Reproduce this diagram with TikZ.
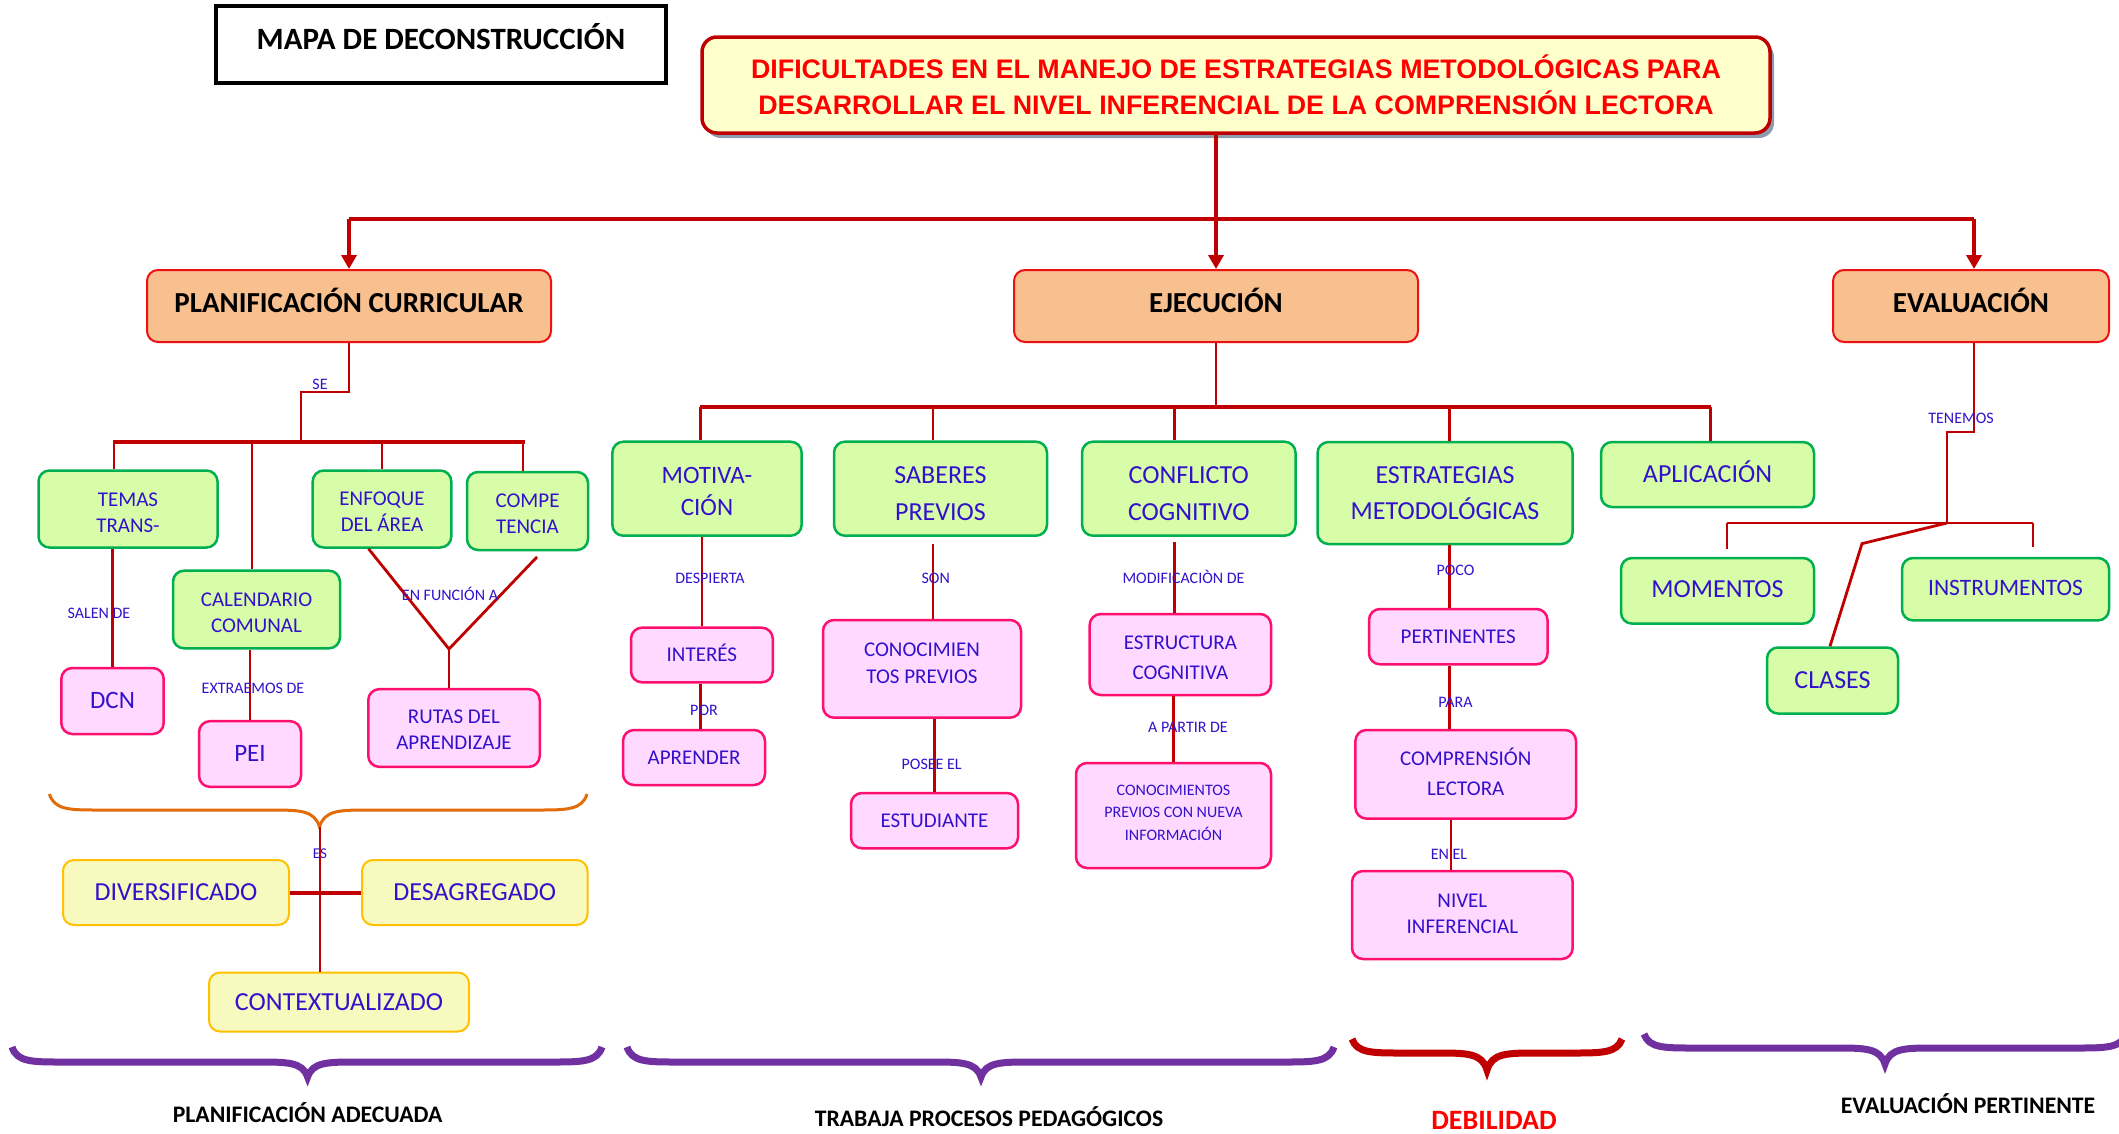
\documentclass[tikz,border=0pt]{standalone}
\usepackage{fontspec}
\setmainfont{Carlito}
\newfontfamily\arialf{Liberation Sans}
\usetikzlibrary{arrows.meta,shadows}
\definecolor{lred}{HTML}{C00000}
\definecolor{tblue}{HTML}{3311CC}
\definecolor{gfill}{HTML}{D7FDA8}
\definecolor{gline}{HTML}{00B050}
\definecolor{pfill}{HTML}{FFD9FF}
\definecolor{pline}{HTML}{FF0F6E}
\definecolor{ofill}{HTML}{F8BF8F}
\definecolor{oline}{HTML}{EE1111}
\definecolor{yfill}{HTML}{F8F9BE}
\definecolor{yline}{HTML}{FFC000}
\definecolor{tfill}{HTML}{FFFFCC}
\definecolor{shadowc}{HTML}{8C9BB0}
\definecolor{purp}{HTML}{7030A0}
\definecolor{obr}{HTML}{E36C0A}
\newcommand\fs[2]{\fontsize{#1}{#2}\selectfont}
\newcommand\hup[1]{\rule{0pt}{#1pt}}
\newcommand\dup[1]{\rule[-#1pt]{0pt}{0pt}}
\newcommand\mybrace[7]{\draw[#1] (#2,#5) .. controls (#2+5,#6) and (#2+20,#6) .. (#2+50,#6) -- (#4-50,#6) .. controls (#4-20,#6) and (#4-5,#6) .. (#4,#7) .. controls (#4+5,#6) and (#4+20,#6) .. (#4+50,#6) -- (#3-50,#6) .. controls (#3-20,#6) and (#3-5,#6) .. (#3,#5);}
\begin{document}
\begin{tikzpicture}[x=1pt,y=-1pt,
  bx/.style={align=center, inner sep=0pt, text=tblue, line width=2.5pt, rounded corners=11pt},
  gbox/.style={bx, fill=gfill, draw=gline},
  pbox/.style={bx, fill=pfill, draw=pline},
  ybox/.style={bx, fill=yfill, draw=yline, line width=2pt},
  obox/.style={bx, fill=ofill, draw=oline, line width=2pt, text=black, font=\bfseries\fs{29}{34}, text height=13pt, text depth=0pt},
  sz/.style 2 args={minimum width=#1pt, minimum height=#2pt},
  capht/.style={text height=#1pt, text depth=0pt},
  lbl/.style={text=tblue, inner sep=0pt, font=\fs{16}{19}, text height=10pt, text depth=0pt},
  barline/.style={draw=lred, line width=4pt},
  ln/.style={draw=lred, line width=2.8pt},
  arr/.style={draw=lred, line width=4pt, -{Triangle[length=14pt,width=15pt]}},
  brc/.style={draw=purp, line width=7pt},
  btitle/.style={font=\bfseries\fs{23.7}{28}, text=black, inner sep=0pt, text height=15pt, text depth=0pt}]
\fill[white] (0,0) rectangle (2119,1133);
\useasboundingbox (0,0) rectangle (2119,1133);

% ---------- top ----------
\node[draw=black, line width=3.5pt, sz={450}{77}] (mapa) at (441,44.5) {};
\node[font=\bfseries\fs{31}{36}, inner sep=0pt, text height=19.6pt, text depth=0pt] (mapat) at (441,40) {MAPA DE DECONSTRUCCIÓN};
\node[fill=tfill, draw=lred, line width=3.5pt, rounded corners=15pt, sz={1068}{96},
  drop shadow={fill=shadowc, opacity=1, shadow xshift=4pt, shadow yshift=-5pt},
  align=center, text=red, inner sep=0pt, font=\arialf\bfseries\fs{26.8}{36}] (title) at (1236,85)
  {DIFICULTADES EN EL MANEJO DE ESTRATEGIAS METODOLÓGICAS PARA\\DESARROLLAR EL NIVEL INFERENCIAL DE LA COMPRENSIÓN LECTORA};

\node[obox, sz={404}{72}] (planif) at (349,306) {PLANIFICACIÓN CURRICULAR};
\node[obox, sz={404}{72}] (ejec) at (1216,306) {EJECUCIÓN};
\node[obox, sz={276}{72}] (eval) at (1971,306) {EVALUACIÓN};

\coordinate (barL) at (349,219);
\coordinate (barR) at (1974,219);
\draw[barline] (barL) -- (barR);
\draw[arr] (ejec.north |- title.south) -- (ejec.north);
\draw[arr] (barL) -- (planif.north);
\draw[arr] (barR) -- (barR |- eval.north);

% ---------- planificacion ----------
\node[gbox, sz={179}{77}, font=\fs{21}{25.7}] (temas) at (128,509) {\hup{21.3}TEMAS\\TRANS-};
\node[gbox, sz={167}{77.6}, font=\fs{21}{25.7}] (cal) at (256.5,609.5) {\hup{20.1}CALENDARIO\\COMUNAL};
\node[gbox, sz={138.6}{77}, font=\fs{21}{25.4}] (enf) at (382,509) {\hup{18.7}ENFOQUE\\DEL ÁREA};
\node[gbox, sz={121}{78}, font=\fs{21}{26}] (compe) at (527.5,511) {\hup{18.7}COMPE\\TENCIA};
\node[pbox, sz={102.4}{66}, font=\fs{25}{30}, capht=15.8] (dcn) at (112.5,701) {DCN};
\node[pbox, sz={102}{65.7}, font=\fs{25}{30}, capht=15.8] (pei) at (250,754) {PEI};
\node[pbox, sz={171.5}{77.7}, font=\fs{21}{25.6}] (rutas) at (454,728) {\hup{17.3}RUTAS DEL\\APRENDIZAJE};

\coordinate (pj) at (301,392);
\coordinate (pbL) at (112.7,441.7);
\coordinate (pbR) at (525,441.7);
\draw[ln] (planif.south) |- (pj) -- (pj |- pbL);
\draw[barline] (pbL) -- (pbR);
\draw[ln] ([xshift=-14pt]temas.north) -- ([xshift=-14pt]temas.north |- pbL);
\draw[ln] ([xshift=-4.5pt]cal.north) -- ([xshift=-4.5pt]cal.north |- pbL);
\draw[ln] (enf.north) -- (enf.north |- pbL);
\draw[ln] ([xshift=-4.5pt]compe.north) -- ([xshift=-4.5pt]compe.north |- pbL);
\draw[ln] (dcn.north) -- (dcn.north |- temas.south);
\draw[ln] (pei.north) -- (pei.north |- cal.south);
\coordinate (vj) at (449,649);
\draw[ln] ([xshift=-13.5pt]enf.south) -- (vj) -- ([xshift=9.5pt,yshift=-5.7pt]compe.south);
\draw[ln] (vj) -- (vj |- rutas.north);

\node[lbl] (lse) at (320,384) {SE};
\node[lbl] (lsalen) at (99,613) {SALEN DE};
\node[lbl] (lextr) at (253,688) {EXTRAEMOS DE};
\node[lbl] (lfunc) at (450,595) {EN FUNCIÓN A};

% orange brace and planning types
\mybrace{draw=obr, line width=3pt}{49.4}{587}{319.5}{794}{810}{827}
\coordinate (otip) at (320,827);
\node[ybox, sz={226}{65}, font=\fs{26}{30}, capht=16.4] (div) at (176,892.5) {DIVERSIFICADO};
\node[ybox, sz={225.5}{65}, font=\fs{26}{30}, capht=16.4] (desag) at (474.75,892.5) {DESAGREGADO};
\node[ybox, sz={260}{59}, font=\fs{26}{30}, capht=16.4] (ctx) at (339,1002) {CONTEXTUALIZADO};
\draw[draw=lred, line width=2pt] (otip) -- (otip |- ctx.north);
\draw[barline] (div.east) -- (desag.west);
\node[lbl, font=\fs{15}{18}] (les) at (320,853) {ES};

% ---------- ejecucion ----------
\node[gbox, sz={189.3}{94}, font=\fs{25}{31.7}] (mot) at (707,488.7) {\hup{21.2}MOTIVA-\\CIÓN};
\node[gbox, sz={213}{94}, font=\fs{26}{36.7}] (sab) at (940.5,488.7) {\hup{27.2}SABERES\\PREVIOS};
\node[gbox, sz={213.5}{94}, font=\fs{26}{36.7}] (conf) at (1188.75,488.7) {\hup{27.2}CONFLICTO\\COGNITIVO};
\node[gbox, sz={255}{102}, font=\fs{26}{36}] (estr) at (1445,493) {ESTRATEGIAS\\METODOLÓGICAS};
\node[gbox, sz={213}{65}, font=\fs{26}{30}, capht=16.4] (aplic) at (1707.5,474.5) {APLICACIÓN};

\coordinate (ebL) at (700.4,407.3);
\coordinate (ebR) at (1710.7,407.3);
\draw[ln] (ejec.south) -- (ejec.south |- ebL);
\draw[barline] (ebL) -- (ebR);
\draw[ln] (ebL) -- (ebL |- mot.north);
\draw[ln] ([xshift=-7.5pt]sab.north) -- ([xshift=-7.5pt]sab.north |- ebL);
\draw[ln] ([xshift=-14.25pt]conf.north) -- ([xshift=-14.25pt]conf.north |- ebL);
\draw[ln] ([xshift=4.6pt]estr.north) -- ([xshift=4.6pt]estr.north |- ebL);
\draw[ln] ([xshift=3.2pt]aplic.north) -- ([xshift=3.2pt]aplic.north |- ebL);

\node[pbox, sz={141.8}{54.6}, font=\fs{21}{25}, capht=13.3] (int) at (701.9,655) {INTERÉS};
\node[pbox, sz={142}{55}, font=\fs{21}{25}, capht=13.3] (apr) at (694,757.5) {APRENDER};
\draw[ln] (int.north) -- (int.north |- mot.south);
\draw[ln] ([xshift=6.4pt]apr.north) -- ([xshift=6.4pt]apr.north |- int.south);
\node[lbl] (ldesp) at (710,578.3) {DESPIERTA};
\node[lbl] (lpor) at (704,710.7) {POR};

\node[pbox, sz={198}{97.7}] (conprev) at (922,668.85) {};
\node[text=tblue, align=center, inner sep=0pt, font=\fs{21}{26.7}] (conprevt) at (922,663.35) {CONOCIMIEN\\TOS PREVIOS};
\node[pbox, sz={167}{55.3}, font=\fs{21}{25}, capht=13.3] (est) at (934.5,820.65) {ESTUDIANTE};
\coordinate (sabg) at (933,544);
\draw[ln] (sabg) -- (sabg |- conprev.north);
\draw[ln] (est.north) -- (est.north |- conprev.south);
\node[lbl] (lson) at (935.7,578) {SON};
\node[lbl] (lposee) at (931.7,764) {POSEE EL};

\node[pbox, sz={181.3}{81}, font=\fs{21}{30}] (estcog) at (1180.35,654.5) {\hup{20.1}ESTRUCTURA\\COGNITIVA};
\node[pbox, sz={195}{105}, font=\fs{16}{22.5}] (cpn) at (1173.5,815.5) {CONOCIMIENTOS\\PREVIOS CON NUEVA\\INFORMACIÓN\dup{6}};
\coordinate (confg) at (1174.5,542);
\draw[ln] (confg) -- (confg |- estcog.north);
\draw[ln] (cpn.north) -- (cpn.north |- estcog.south);
\node[lbl] (lmod) at (1183.5,578) {MODIFICACIÒN DE};
\node[lbl] (lpartir) at (1188,727) {A PARTIR DE};

\node[pbox, sz={178.5}{55.3}, font=\fs{21}{25}, capht=13.3] (pert) at (1458.25,636.65) {PERTINENTES};
\node[pbox, sz={220.6}{88.6}, font=\fs{21}{30}] (comp) at (1465.7,774.3) {COMPRENSIÓN\\LECTORA\dup{5.4}};
\node[pbox, sz={220.7}{88}, font=\fs{21}{25.7}] (niv) at (1462.35,915) {NIVEL\\INFERENCIAL\dup{2.8}};
\draw[ln] ([xshift=-8.6pt]pert.north) -- ([xshift=-8.6pt]pert.north |- estr.south);
\draw[ln] ([xshift=-16.1pt]comp.north) -- ([xshift=-16.1pt]comp.north |- pert.south);
\draw[draw=lred, line width=1.6pt] ([xshift=-11.35pt]niv.north) -- ([xshift=-11.35pt]niv.north |- comp.south);
\node[lbl] (lpoco) at (1455.5,570) {POCO};
\node[lbl] (lpara) at (1455.5,702) {PARA};
\node[lbl] (lenel) at (1449,854) {EN EL};

% ---------- evaluacion ----------
\node[gbox, sz={193}{65.6}, font=\fs{26}{30}, capht=12.6] (mom) at (1717.5,590.8) {MOMENTOS};
\node[gbox, sz={207}{62.4}, font=\fs{23.5}{28}, capht=13.5] (inst) at (2005.5,589.2) {INSTRUMENTOS};
\node[gbox, sz={131}{66}, font=\fs{26}{30}, capht=15] (clas) at (1832.5,680.5) {CLASES};
\coordinate (ev1) at (1947,432);
\coordinate (evj) at (1947,523);
\coordinate (ebl2) at (1727,523);
\coordinate (ebr2) at (2033,523);
\coordinate (ckink) at (1862,543.6);
\draw[ln] ([xshift=3pt]eval.south) |- (ev1) -- (evj);
\draw[ln] (ebl2) -- (ebr2);
\draw[ln] (ebl2) -- ([xshift=9.5pt,yshift=8pt]mom.north);
\draw[ln] (ebr2) -- ([xshift=27.5pt,yshift=10pt]inst.north);
\draw[ln] (evj) -- (ckink) -- ([xshift=-2.5pt]clas.north);
\node[lbl] (lten) at (1961,418) {TENEMOS};

% ---------- bottom braces ----------
\mybrace{brc}{12}{602}{307.6}{1047}{1062}{1077}
\mybrace{brc}{627}{1334}{981}{1047}{1062}{1077}
\mybrace{draw=lred, line width=7pt}{1352}{1622}{1487}{1039}{1053}{1070}
\mybrace{brc}{1644}{2126}{1885}{1034}{1048}{1064}
\node[btitle] (pa) at (307.6,1115) {PLANIFICACIÓN ADECUADA};
\node[btitle] (tp) at (989,1119) {TRABAJA PROCESOS PEDAGÓGICOS};
\node[btitle, text=red, font=\bfseries\fs{28}{32}, text height=17.7pt] (deb) at (1494,1121) {DEBILIDAD};
\node[btitle] (ep) at (1968,1106) {EVALUACIÓN PERTINENTE};
\end{tikzpicture}
\end{document}
